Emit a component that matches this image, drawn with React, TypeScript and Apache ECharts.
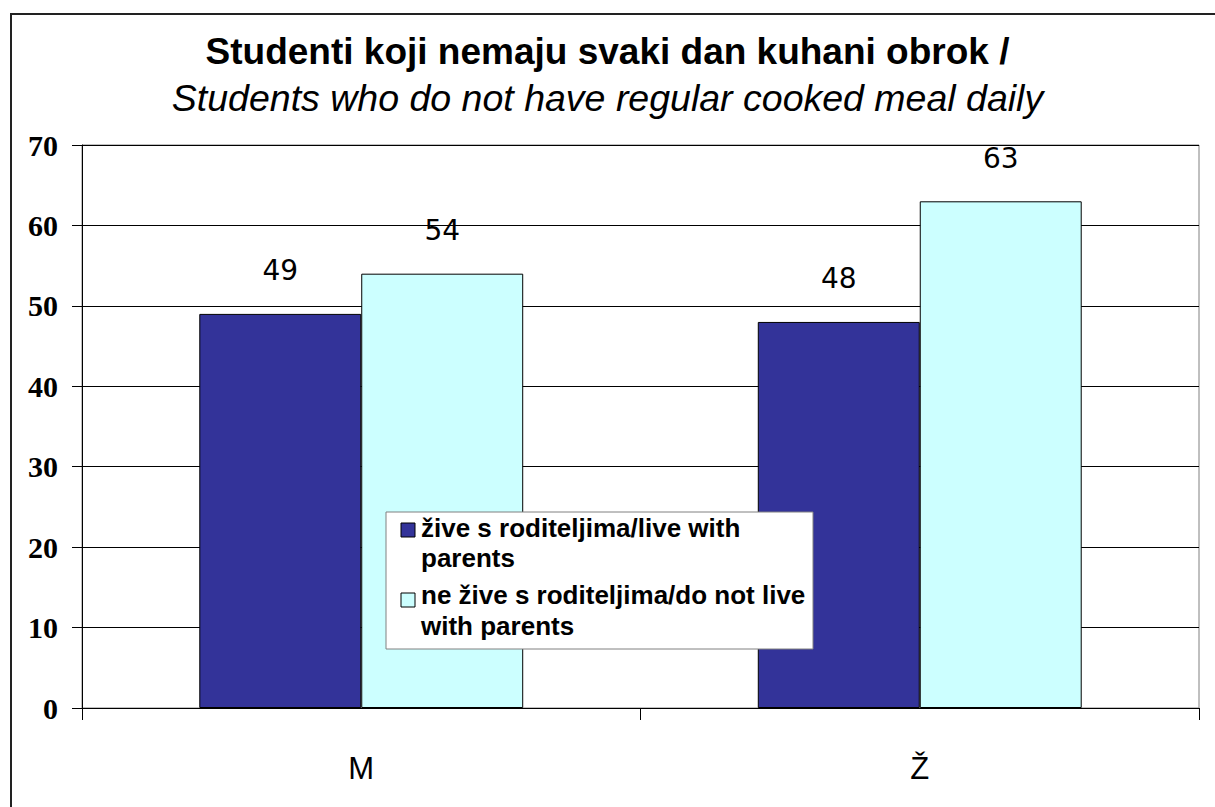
import React, { useEffect, useRef } from "react";
import * as echarts from "echarts";

const categories = ["M", "Ž"];
const seriesNames = [
  "žive s roditeljima/live with parents",
  "ne žive s roditeljima/do not live with parents",
];
const liveWithParents = [49, 48];
const notLiveWithParents = [54, 63];
const legendLines1 = ["žive s roditeljima/live with", "parents"];
const legendLines2 = ["ne žive s roditeljima/do not live", "with parents"];
const titleText = "Studenti koji nemaju svaki dan kuhani obrok /";
const subtitleText = "Students who do not have regular cooked meal daily";

const DARK = "#333399";
const LIGHT = "#CCFFFF";

export default function App() {
  const ref = useRef<HTMLDivElement>(null);
  useEffect(() => {
    if (!ref.current) return;
    const chart = echarts.init(ref.current, null, { renderer: "svg" });
    const legendFont = 'bold 26px "Liberation Sans", Arial, sans-serif';
    const lx = 386;
    const ly = 512;
    const Z = 1000;
    chart.setOption({
      animation: false,
      backgroundColor: "#ffffff",
      title: [
        {
          text: titleText,
          left: "center",
          top: 28,
          textStyle: {
            fontFamily: '"Liberation Sans", Arial, sans-serif',
            fontWeight: "bold",
            fontSize: 37,
            color: "#000",
          },
        },
        {
          text: subtitleText,
          left: "center",
          top: 74,
          textStyle: {
            fontFamily: '"Liberation Sans", Arial, sans-serif',
            fontWeight: "normal",
            fontStyle: "italic",
            fontSize: 37.5,
            color: "#000",
          },
        },
      ],
      grid: {
        left: 82,
        right: 16,
        top: 145,
        bottom: 99,
        show: true,
        borderColor: "#808080",
        borderWidth: 1,
        backgroundColor: "transparent",
      },
      xAxis: {
        type: "category",
        data: categories,
        axisLine: { show: true, lineStyle: { color: "#000", width: 1 } },
        axisTick: { show: true, length: 12, lineStyle: { color: "#000" } },
        axisLabel: {
          margin: 45,
          fontFamily: '"Liberation Sans", Arial, sans-serif',
          fontSize: 31,
          color: "#000",
        },
        splitLine: { show: false },
      },
      yAxis: {
        type: "value",
        min: 0,
        max: 70,
        interval: 10,
        axisLine: { show: true, lineStyle: { color: "#000", width: 1 } },
        axisTick: { show: true, length: 10, lineStyle: { color: "#000" } },
        axisLabel: {
          margin: 24,
          fontFamily: '"Liberation Serif", "Times New Roman", serif',
          fontWeight: "bold",
          fontSize: 30,
          color: "#000",
        },
        splitLine: { show: true, lineStyle: { color: "#000", width: 1 } },
      },
      legend: { show: false },
      series: [
        {
          name: seriesNames[0],
          type: "bar",
          data: liveWithParents,
          barGap: "0%",
          barCategoryGap: "42%",
          itemStyle: { color: DARK, borderColor: "#000", borderWidth: 1 },
          label: {
            show: true,
            position: "top",
            distance: 29,
            fontFamily: '"DejaVu Sans", Verdana, sans-serif',
            fontSize: 28,
            color: "#000",
          },
        },
        {
          name: seriesNames[1],
          type: "bar",
          data: notLiveWithParents,
          barGap: "0%",
          barCategoryGap: "42%",
          itemStyle: { color: LIGHT, borderColor: "#000", borderWidth: 1 },
          label: {
            show: true,
            position: "top",
            distance: 29,
            fontFamily: '"DejaVu Sans", Verdana, sans-serif',
            fontSize: 28,
            color: "#000",
          },
        },
      ],
      graphic: [
        {
          type: "rect",
          silent: true,
          z: Z,
          shape: { x: 11, y: 14, width: 1400, height: 1000 },
          style: { fill: "none", stroke: "#222", lineWidth: 2 },
        },
        {
          type: "rect",
          z: Z,
          shape: { x: lx, y: ly, width: 427, height: 137 },
          style: { fill: "#fff", stroke: "#808080", lineWidth: 1 },
        },
        {
          type: "rect",
          z: Z + 1,
          shape: { x: 401, y: 523, width: 14, height: 14 },
          style: { fill: DARK, stroke: "#000", lineWidth: 1 },
        },
        {
          type: "rect",
          z: Z + 1,
          shape: { x: 401, y: 593, width: 14, height: 14 },
          style: { fill: LIGHT, stroke: "#000", lineWidth: 1 },
        },
        {
          type: "text",
          z: Z + 1,
          style: { text: legendLines1[0], x: 421, y: 528, font: legendFont, fill: "#000", verticalAlign: "middle" },
        },
        {
          type: "text",
          z: Z + 1,
          style: { text: legendLines1[1], x: 421, y: 558, font: legendFont, fill: "#000", verticalAlign: "middle" },
        },
        {
          type: "text",
          z: Z + 1,
          style: { text: legendLines2[0], x: 421, y: 595, font: legendFont, fill: "#000", verticalAlign: "middle" },
        },
        {
          type: "text",
          z: Z + 1,
          style: { text: legendLines2[1], x: 421, y: 626, font: legendFont, fill: "#000", verticalAlign: "middle" },
        },
      ],
    });
    return () => chart.dispose();
  }, []);
  return (
    <div
      ref={ref}
      style={{ position: "absolute", left: 0, top: 0, width: 1215, height: 807 }}
    />
  );
}
